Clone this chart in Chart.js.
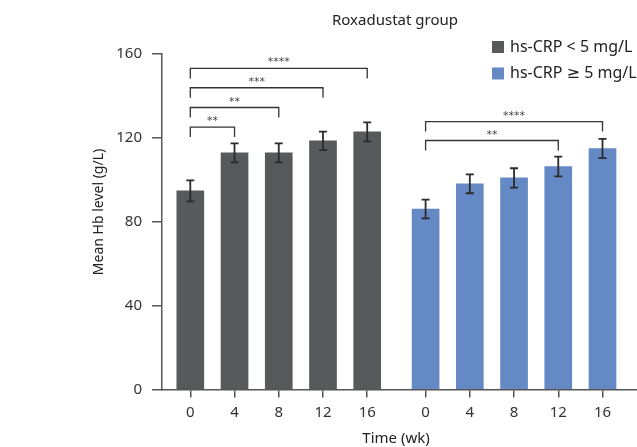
<!DOCTYPE html>
<html><head><meta charset="utf-8">
<script src="https://cdn.jsdelivr.net/npm/chart.js@4.4.1/dist/chart.umd.min.js"></script>
<style>html,body{margin:0;padding:0;background:#fff;} canvas{display:block}</style>
</head><body><canvas id="c" width="637" height="447" style="width:637px;height:447px"></canvas>
<script>
const weeks = ['0', '4', '8', '12', '16'];
const groupNames = ['hs-CRP < 5 mg/L', 'hs-CRP \u2265 5 mg/L'];
const lowMeans = [94.5, 112.6, 112.6, 118.3, 122.6];
const lowErrors = [5.0, 4.5, 4.5, 4.4, 4.5];
const highMeans = [85.9, 97.9, 100.7, 106.1, 114.7];
const highErrors = [4.5, 4.5, 4.6, 4.7, 4.6];
const yTicks = [0, 40, 80, 120, 160];
// significance brackets: [fromWeekIndex, toWeekIndex, label, bracket level (g/L)]
const lowComparisons = [[0, 1, '**', 124.9], [0, 2, '**', 134.2], [0, 3, '***', 143.6], [0, 4, '****', 152.8]];
const highComparisons = [[0, 3, '**', 118.5], [0, 4, '****', 127.5]];

const FONT = '"Noto Sans", "DejaVu Sans", sans-serif';
const GREY = '#58595b';
const BLUE = '#6489c4';
const GAP = 5.32; // x offset of 2nd group (in slot units)

const pos = (g, i) => i + g * GAP;
const tickPositions = [0, 1].flatMap(g => weeks.map((w, i) => pos(g, i)));

const errPlugin = {
  id: 'extras',
  afterDatasetsDraw(chart) {
    const ctx = chart.ctx, xs = chart.scales.x, ys = chart.scales.y;
    ctx.save();
    chart.data.datasets.forEach((ds, g) => {
      ds.data.forEach((p, i) => {
        const e = ds.errors[i];
        const x = xs.getPixelForValue(p.x);
        const yt = ys.getPixelForValue(p.y + e), yb = ys.getPixelForValue(p.y - e);
        ctx.strokeStyle = '#2b2b2b'; ctx.lineWidth = 1.8;
        ctx.beginPath();
        ctx.moveTo(x, yt); ctx.lineTo(x, yb);
        ctx.moveTo(x - 4, yt); ctx.lineTo(x + 4, yt);
        ctx.moveTo(x - 4, yb); ctx.lineTo(x + 4, yb);
        ctx.stroke();
      });
    });
    [lowComparisons, highComparisons].forEach((list, g) => {
      list.forEach(([a, b, lab, lvl]) => {
        const x1 = xs.getPixelForValue(pos(g, a)), x2 = xs.getPixelForValue(pos(g, b));
        const y = ys.getPixelForValue(lvl);
        ctx.strokeStyle = '#333'; ctx.lineWidth = 1.3;
        ctx.beginPath();
        ctx.moveTo(x1, y + 10); ctx.lineTo(x1, y); ctx.lineTo(x2, y); ctx.lineTo(x2, y + 10);
        ctx.stroke();
        ctx.fillStyle = '#444';
        ctx.font = '11px "DejaVu Sans", sans-serif';
        ctx.textAlign = 'center'; ctx.textBaseline = 'alphabetic';
        ctx.fillText(lab, (x1 + x2) / 2, y - 9 + 6);
      });
    });
    ctx.restore();
  },
  afterDraw(chart) {
    const ctx = chart.ctx;
    ctx.save();
    ctx.fillStyle = '#222';
    ctx.font = '15px ' + FONT;
    ctx.textAlign = 'center'; ctx.textBaseline = 'middle';
    ctx.fillText('Roxadustat group', 395, 21);
    chart.data.datasets.forEach((ds, g) => {
      const cy = 47 + g * 26.5;
      ctx.fillStyle = ds.backgroundColor;
      ctx.fillRect(492, cy - 6, 12, 12);
      ctx.fillStyle = '#222';
      ctx.font = '16px ' + FONT;
      ctx.textAlign = 'left';
      ctx.fillText(ds.label, 510, cy);
    });
    ctx.font = '15px ' + FONT;
    ctx.textAlign = 'center';
    ctx.fillText('Time (wk)', 396, 439);
    ctx.font = '14px ' + FONT;
    ctx.translate(99, 212);
    ctx.rotate(-Math.PI / 2);
    ctx.fillText('Mean Hb level (g/L)', 0, 0);
    ctx.restore();
  }
};

new Chart(document.getElementById('c'), {
  type: 'bar',
  data: {
    datasets: [
      { label: groupNames[0], data: lowMeans.map((v, i) => ({ x: pos(0, i), y: v })), errors: lowErrors, backgroundColor: GREY, barThickness: 27, grouped: false },
      { label: groupNames[1], data: highMeans.map((v, i) => ({ x: pos(1, i), y: v })), errors: highErrors, backgroundColor: BLUE, barThickness: 27, grouped: false }
    ]
  },
  options: {
    responsive: false,
    animation: false,
    devicePixelRatio: 1,
    layout: { padding: { left: 0, top: 53.3, right: 0, bottom: 0 } },
    plugins: { legend: { display: false }, title: { display: false }, tooltip: { enabled: false } },
    scales: {
      x: {
        type: 'linear', min: -0.64, max: 10.1, offset: false,
        afterBuildTicks: s => { s.ticks = tickPositions.map(v => ({ value: v })); },
        afterFit: s => { s.height = 57.5; },
        ticks: {
          autoSkip: false, maxRotation: 0, minRotation: 0, padding: 6, color: '#333',
          font: { family: FONT, size: 15 },
          callback: (v, i) => weeks[i % weeks.length]
        },
        grid: { offset: false, drawOnChartArea: false, drawTicks: true, tickLength: 8, color: '#555', lineWidth: 1.5 },
        border: { display: true, color: '#555', width: 1.5 }
      },
      y: {
        min: 0, max: 160,
        afterBuildTicks: s => { s.ticks = yTicks.map(v => ({ value: v })); },
        afterFit: s => { s.width = 162; },
        ticks: { padding: 10, color: '#333', font: { family: FONT, size: 15 } },
        grid: { drawOnChartArea: false, drawTicks: true, tickLength: 10, color: '#555', lineWidth: 1.5 },
        border: { display: true, color: '#555', width: 1.5 }
      }
    }
  },
  plugins: [errPlugin]
});
</script></body></html>
